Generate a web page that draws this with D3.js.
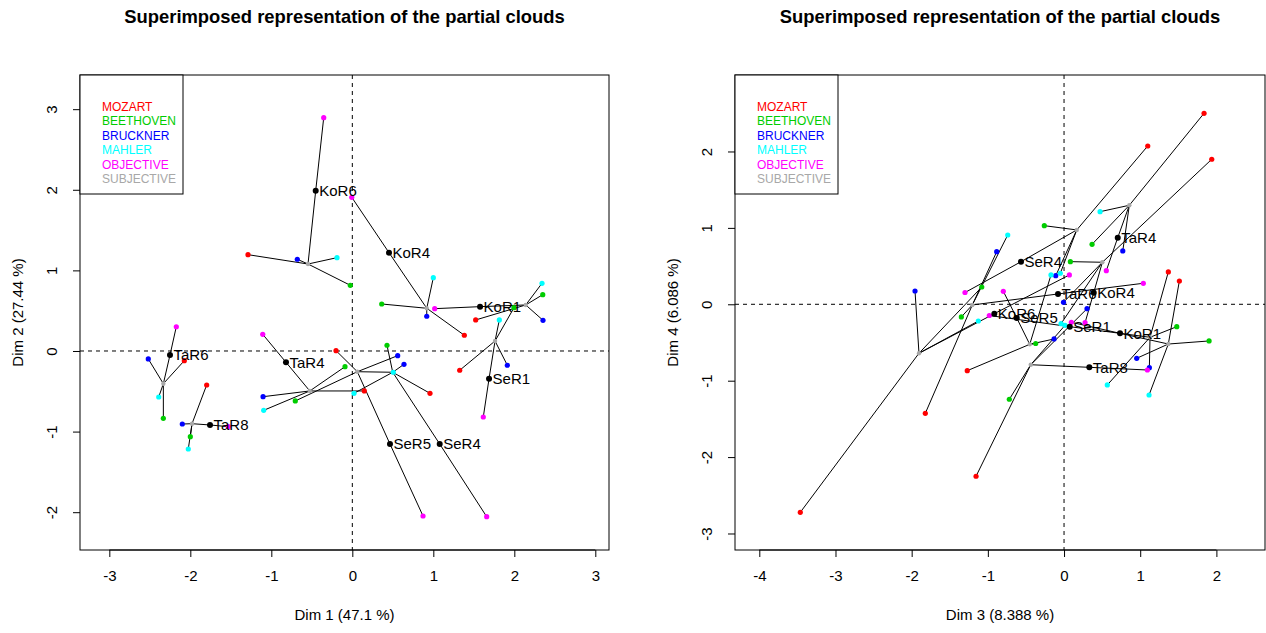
<!DOCTYPE html>
<html><head><meta charset="utf-8">
<script src="https://cdn.jsdelivr.net/npm/d3@7"></script>
<style>
body{margin:0;background:#fff}
svg{display:block}
text{font-family:"Liberation Sans",Arial,Helvetica,sans-serif}
</style>
</head><body>
<svg id="chart" width="1266" height="633"></svg>
<script>
// ---------- data ----------
const individuals = ["KoR1","KoR4","KoR6","TaR4","TaR6","TaR8","SeR1","SeR4","SeR5"];
const groupNames = ["MOZART","BEETHOVEN","BRUCKNER","MAHLER","OBJECTIVE","SUBJECTIVE"];
const groupColors = ["#FF0000","#00CD00","#0000FF","#00FFFF","#FF00FF","#A8A8A8"];

// Dims 1-2
const mean12 = [[1.577,0.550],[0.453,1.220],[-0.452,1.989],[-0.819,-0.140],[-2.251,-0.050],[-1.757,-0.918],[1.688,-0.344],[1.079,-1.154],[0.465,-1.154]];
const objective12 = [[1.017,0.525],[-0.007,1.907],[-0.353,2.895],[-1.106,0.207],[-2.173,0.301],[-1.531,-0.939],[1.617,-0.819],[1.659,-2.056],[0.873,-2.047]];
const subjective12 = [[2.141,0.571],[0.919,0.530],[-0.547,1.079],[-0.525,-0.496],[-2.333,-0.406],[-1.979,-0.902],[1.762,0.124],[0.499,-0.264],[0.062,-0.257]];
const mozart12 = [[1.523,0.385],[1.383,0.195],[-1.288,1.195],[0.148,-0.496],[-2.074,-0.120],[-1.798,-0.422],[1.326,-0.239],[0.959,-0.525],[-0.201,0.004]];
const beethoven12 = [[2.351,0.699],[0.363,0.583],[-0.025,0.815],[-0.090,-0.195],[-2.333,-0.835],[-2.000,-1.063],[1.996,0.537],[0.428,0.071],[-0.704,-0.620]];
const bruckner12 = [[2.354,0.381],[0.919,0.431],[-0.679,1.138],[-1.102,-0.567],[-2.519,-0.099],[-2.099,-0.906],[1.914,-0.177],[0.638,-0.165],[0.560,-0.058]];
const mahler12 = [[2.342,0.840],[1.000,0.909],[-0.189,1.158],[-1.094,-0.736],[-2.390,-0.571],[-2.025,-1.216],[1.815,0.385],[0.021,-0.525],[0.506,-0.264]];

// Dims 3-4
const mean34 = [[0.735,-0.380],[0.390,0.152],[-0.915,-0.123],[0.705,0.872],[-0.079,0.135],[0.332,-0.825],[0.075,-0.293],[-0.565,0.557],[-0.621,-0.179]];
const objective34 = [[0.096,-0.236],[0.276,-0.241],[0.070,0.384],[0.555,0.440],[1.041,0.275],[1.094,-0.860],[-0.981,-0.147],[-1.300,0.154],[-0.797,0.170]];
const subjective34 = [[1.369,-0.520],[0.503,0.550],[-1.904,-0.641],[0.857,1.296],[-1.204,-0.009],[-0.437,-0.791],[1.129,-0.432],[0.167,0.973],[-0.450,-0.524]];
const mozart34 = [[1.514,0.305],[1.939,1.898],[-3.462,-2.723],[1.838,2.500],[-1.821,-1.427],[-1.155,-2.251],[1.369,0.423],[1.099,2.072],[-1.270,-0.869]];
const beethoven34 = [[1.904,-0.480],[0.083,0.558],[-1.080,0.226],[0.368,0.785],[-1.348,-0.166],[-0.718,-1.243],[1.480,-0.293],[-0.259,1.029],[-0.372,-0.513]];
const bruckner34 = [[0.954,-0.707],[-0.007,0.026],[-1.956,0.174],[0.771,0.698],[-0.884,0.688],[0.302,-0.058],[1.120,-0.830],[-0.109,0.374],[-0.131,-0.454]];
const mahler34 = [[1.116,-1.187],[-0.039,-0.254],[-1.125,-0.219],[0.473,1.212],[-0.739,0.907],[0.013,-0.275],[0.568,-1.056],[-0.049,0.406],[-0.171,0.384]];

const xTicks12 = [-3,-2,-1,0,1,2,3];
const yTicks12 = [-2,-1,0,1,2,3];
const xTicks34 = [-4,-3,-2,-1,0,1,2];
const yTicks34 = [-3,-2,-1,0,1,2];

const titleText = "Superimposed representation of the partial clouds";

// ---------- drawing ----------
const svg = d3.select("#chart");

function panel(cfg){
  const {left, right, top, bottom, xDom, yDom, xTicks, yTicks, xLab, yLab,
         mean, obj, subj, comps} = cfg;
  const x = d3.scaleLinear().domain(xDom).range([left, right]);
  const y = d3.scaleLinear().domain(yDom).range([bottom, top]);
  const g = svg.append("g");

  // title
  g.append("text").attr("x",(left+right)/2).attr("y",23)
    .attr("text-anchor","middle").attr("font-weight","bold").attr("font-size",18.4)
    .text(titleText);

  // dashed zero lines
  g.append("line").attr("x1",left).attr("x2",right).attr("y1",y(0)).attr("y2",y(0))
    .attr("stroke","#000").attr("stroke-dasharray","4,4");
  g.append("line").attr("x1",x(0)).attr("x2",x(0)).attr("y1",top).attr("y2",bottom)
    .attr("stroke","#000").attr("stroke-dasharray","4,4");

  // segments
  const seg = g.append("g").attr("stroke","#000").attr("stroke-width",1);
  individuals.forEach((name,i)=>{
    seg.append("line").attr("x1",x(obj[i][0])).attr("y1",y(obj[i][1]))
      .attr("x2",x(mean[i][0])).attr("y2",y(mean[i][1]));
    seg.append("line").attr("x1",x(mean[i][0])).attr("y1",y(mean[i][1]))
      .attr("x2",x(subj[i][0])).attr("y2",y(subj[i][1]));
    comps.forEach(arr=>{
      seg.append("line").attr("x1",x(subj[i][0])).attr("y1",y(subj[i][1]))
        .attr("x2",x(arr[i][0])).attr("y2",y(arr[i][1]));
    });
  });

  // points
  const pts = g.append("g");
  pts.selectAll(".subj").data(subj).join("circle")
    .attr("cx",d=>x(d[0])).attr("cy",d=>y(d[1])).attr("r",2.2).attr("fill",groupColors[5]);
  comps.forEach((arr,k)=>{
    pts.selectAll(".c"+k).data(arr).join("circle")
      .attr("cx",d=>x(d[0])).attr("cy",d=>y(d[1])).attr("r",2.6).attr("fill",groupColors[k]);
  });
  pts.selectAll(".obj").data(obj).join("circle")
    .attr("cx",d=>x(d[0])).attr("cy",d=>y(d[1])).attr("r",2.6).attr("fill",groupColors[4]);
  pts.selectAll(".mean").data(mean).join("circle")
    .attr("cx",d=>x(d[0])).attr("cy",d=>y(d[1])).attr("r",3).attr("fill","#000");

  // labels
  g.append("g").selectAll("text").data(mean).join("text")
    .attr("x",d=>x(d[0])+3.5).attr("y",d=>y(d[1])).attr("dy","0.36em")
    .attr("font-size",15).attr("fill","#000")
    .text((d,i)=>individuals[i]);

  // axes
  const xa = g.append("g").attr("transform",`translate(0,${bottom})`)
    .call(d3.axisBottom(x).tickValues(xTicks).tickSize(7).tickSizeOuter(0).tickFormat(d=>String(d)));
  xa.select(".domain").remove();
  xa.selectAll("line").attr("stroke","#000");
  xa.selectAll("text").attr("font-size",15).attr("font-family",null).attr("y",20).attr("dy","0.71em").attr("fill","#000");
  xa.append("line").attr("x1",x(xTicks[0])).attr("x2",x(xTicks[xTicks.length-1]))
    .attr("stroke","#000");

  const ya = g.append("g").attr("transform",`translate(${left},0)`)
    .call(d3.axisLeft(y).tickValues(yTicks).tickSize(7).tickSizeOuter(0).tickFormat(d=>String(d)));
  ya.select(".domain").remove();
  ya.selectAll("line").attr("stroke","#000");
  ya.selectAll("text").attr("font-size",15).attr("font-family",null).attr("fill","#000")
    .attr("transform","rotate(-90)").attr("x",0).attr("y",-28).attr("dy","0.36em")
    .attr("text-anchor","middle");

  // axis titles
  g.append("text").attr("x",(left+right)/2).attr("y",620).attr("text-anchor","middle")
    .attr("font-size",15).text(xLab);
  g.append("text").attr("transform",`translate(${left-57},${(top+bottom)/2}) rotate(-90)`)
    .attr("text-anchor","middle").attr("font-size",15).text(yLab);

  // box
  g.append("rect").attr("x",left).attr("y",top).attr("width",right-left).attr("height",bottom-top)
    .attr("fill","none").attr("stroke","#000");

  // legend
  const lg = g.append("g");
  lg.append("rect").attr("x",left).attr("y",top).attr("width",103).attr("height",119)
    .attr("fill","#fff").attr("stroke","#000");
  lg.selectAll("text").data(groupNames).join("text")
    .attr("x",left+22).attr("y",(d,i)=>top+31.5+i*14.5).attr("dy","0.36em")
    .attr("font-size",12).attr("fill",(d,i)=>groupColors[i]).text(d=>d);
}

panel({left:80,right:609,top:75,bottom:550,
  xDom:[-3.362,3.169], yDom:[-2.469,3.424],
  xTicks:xTicks12, yTicks:yTicks12,
  xLab:"Dim 1 (47.1 %)", yLab:"Dim 2 (27.44 %)",
  mean:mean12, obj:objective12, subj:subjective12,
  comps:[mozart12,beethoven12,bruckner12,mahler12]});

panel({left:735,right:1265,top:75,bottom:550,
  xDom:[-4.319,2.638], yDom:[-3.216,3.001],
  xTicks:xTicks34, yTicks:yTicks34,
  xLab:"Dim 3 (8.388 %)", yLab:"Dim 4 (6.086 %)",
  mean:mean34, obj:objective34, subj:subjective34,
  comps:[mozart34,beethoven34,bruckner34,mahler34]});
</script>
</body></html>
